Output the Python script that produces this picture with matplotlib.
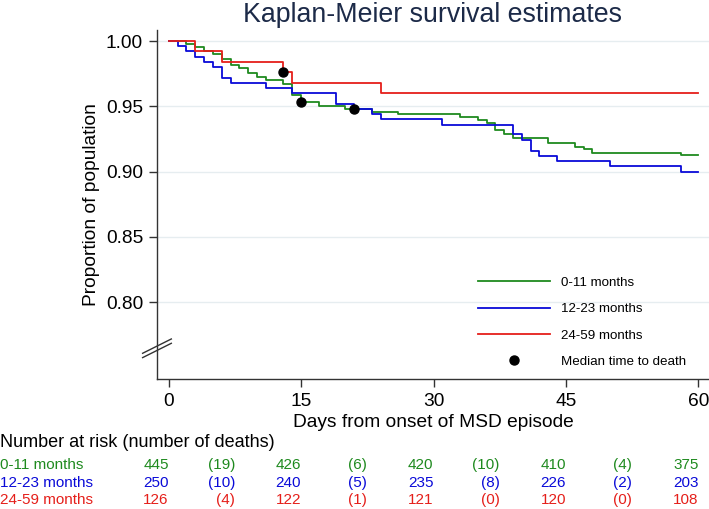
import matplotlib
matplotlib.use('Agg')
import matplotlib.pyplot as plt
import matplotlib.transforms as mtransforms
from matplotlib.ticker import FormatStrFormatter

plt.rcParams['font.family'] = ['Liberation Sans', 'DejaVu Sans']

# step curves (time of change, survival after change)
green_t = [0, 2, 3, 4, 5, 6, 7, 8, 9, 10, 11, 13, 14, 15, 17, 20, 23, 26, 33, 35, 36, 37, 38, 39, 43, 46, 47, 48, 58, 60]
green_s = [1.0, 0.9978, 0.9955, 0.9921, 0.9899, 0.986, 0.9816, 0.9796, 0.9752, 0.9727, 0.970, 0.9672, 0.9585, 0.953,
           0.9505, 0.948, 0.946, 0.944, 0.942, 0.9395, 0.937, 0.932, 0.9286, 0.926, 0.9217, 0.919, 0.917, 0.9145,
           0.9125, 0.9125]

blue_t = [0, 1, 2, 3, 4, 5, 6, 7, 11, 14, 19, 21, 23, 24, 31, 39, 40, 41, 42, 44, 50, 58, 60]
blue_s = [1.0, 0.996, 0.992, 0.988, 0.984, 0.980, 0.972, 0.968, 0.964, 0.960, 0.952, 0.948, 0.944, 0.940, 0.936,
          0.9285, 0.924, 0.916, 0.912, 0.908, 0.904, 0.8995, 0.8995]

red_t = [0, 3, 6, 13, 14, 24, 60]
red_s = [1.0, 0.992, 0.984, 0.976, 0.968, 0.960, 0.960]

median_t = [13, 15, 21]
median_s = [0.976, 0.953, 0.948]

group_labels = ['0-11 months', '12-23 months', '24-59 months']
group_colors = ['#1f8a1f', '#0a0ad8', '#e51f1a']

# number at risk table
risk_times = [0, 15, 30, 45, 60]
green_n = [445, 426, 420, 410, 375]
green_d = [19, 6, 10, 4]
blue_n = [250, 240, 235, 226, 203]
blue_d = [10, 5, 8, 2]
red_n = [126, 122, 121, 120, 108]
red_d = [4, 1, 0, 0]

fig = plt.figure(figsize=(7.09, 5.09), dpi=100)
ax = fig.add_axes([0.2214, 0.2548, 0.7786, 0.6862])

curves = [(green_t, green_s), (blue_t, blue_s), (red_t, red_s)]
for (t, s), c, lab in zip(curves, group_colors, group_labels):
    ax.plot(t, s, drawstyle='steps-post', color=c, lw=1.3, label=lab)
ax.plot(median_t, median_s, 'o', color='black', ms=6.5, ls='none', label='Median time to death', zorder=5)

ax.set_xlim(-1.33, 61.2)
ax.set_ylim(0.741, 1.0084)
ax.set_xticks(risk_times)
ax.set_yticks([0.80, 0.85, 0.90, 0.95, 1.00])
ax.yaxis.set_major_formatter(FormatStrFormatter('%.2f'))
ax.grid(axis='y', color='#e6edf0', lw=1)
ax.set_axisbelow(True)
for side in ['top', 'right']:
    ax.spines[side].set_visible(False)
for side in ['left', 'bottom']:
    ax.spines[side].set_color('#333333')
    ax.spines[side].set_linewidth(1)
ax.tick_params(axis='both', length=6, width=1, color='#333333', labelsize=13.8, pad=4)
ax.set_xlabel('Days from onset of MSD episode', fontsize=13.8, labelpad=3)
ax.set_ylabel('Proportion of population', fontsize=13.8, labelpad=4)
ax.set_title('Kaplan-Meier survival estimates', fontsize=19.3, color='#1c2a48', pad=6)

# axis break mark
for dy in [-0.0062, 0.0062]:
    ax.plot([-0.026, 0.026], [0.0888 + dy - 0.0205, 0.0888 + dy + 0.0205], transform=ax.transAxes,
            color='#333333', lw=1, clip_on=False)

ax.legend(loc='upper left', bbox_to_anchor=(0.581, 0.294), frameon=False, fontsize=9.6,
          handlelength=5.4, handletextpad=0.85, labelspacing=1.05, borderpad=0, borderaxespad=0,
          numpoints=1)

# risk table
trans = mtransforms.blended_transform_factory(ax.transData, fig.transFigure)
fig.text(0.0, 0.1316, 'Number at risk (number of deaths)', fontsize=13, ha='left', va='center')
rows = [(green_n, green_d), (blue_n, blue_d), (red_n, red_d)]
row_y = [0.0864, 0.0511, 0.0177]
for (n, d), c, lab, y in zip(rows, group_colors, group_labels, row_y):
    fig.text(0.0, y, lab, fontsize=11, color=c, ha='left', va='center')
    for t, v in zip(risk_times, n):
        ax.text(t, y, str(v), transform=trans, fontsize=11, color=c, ha='right', va='center', clip_on=False)
    for i, v in enumerate(d):
        mid = (risk_times[i] + risk_times[i + 1]) / 2
        ax.text(mid, y, '(%d)' % v, transform=trans, fontsize=11, color=c, ha='right', va='center', clip_on=False)

fig.savefig('out.png', dpi=100)
